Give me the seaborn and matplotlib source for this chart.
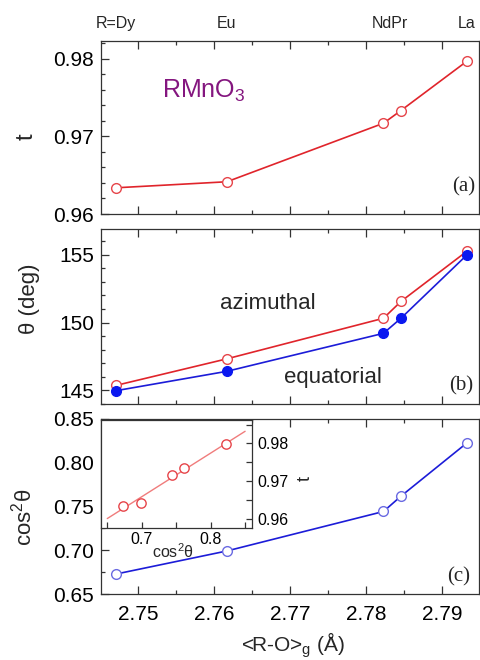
import numpy as np
import pandas as pd
import matplotlib
matplotlib.use("Agg")
import matplotlib.pyplot as plt
import seaborn as sns
from matplotlib.ticker import MultipleLocator, FormatStrFormatter, NullLocator

# ---- data ----
r_o = [2.7471, 2.7617, 2.7823, 2.7846, 2.7933]          # <R-O>_g (Å)
t_vals = [0.96338, 0.96416, 0.97171, 0.97335, 0.97973]   # tolerance factor t
theta_az = [145.37, 147.33, 150.32, 151.56, 155.27]      # azimuthal angle
theta_eq = [144.98, 146.41, 149.21, 150.32, 155.00]      # equatorial angle
cos2 = [0.6728, 0.6992, 0.7443, 0.7618, 0.8228]          # cos^2 theta
top_labels = ["R=Dy", "Eu", "NdPr", "La"]
top_label_x = [2.7471, 2.7617, 2.7832, 2.7933]

sns.set_theme(style="ticks")
plt.rcParams["font.family"] = ["Liberation Sans", "DejaVu Sans"]
plt.rcParams["mathtext.fontset"] = "custom"
plt.rcParams["mathtext.rm"] = "Liberation Sans"
plt.rcParams["mathtext.it"] = "Liberation Sans:italic"
plt.rcParams["mathtext.bf"] = "Liberation Sans:bold"

RED = "#e0242b"
RED_M = "#e6454a"
BLUE = "#1c1cd8"
BLUE_F = "#0a18f0"
BLUE_M = "#6a6ae2"
PURPLE = "#84167f"
RED_IN = "#f07c7c"
SPINE = "#333333"

df = pd.DataFrame({"r_o": r_o, "t": t_vals, "az": theta_az, "eq": theta_eq, "cos2": cos2})

W_PX, H_PX = 481, 660
fig = plt.figure(figsize=(W_PX / 100, H_PX / 100), dpi=100)
L = 101 / W_PX
W = 378 / W_PX
ax_a = fig.add_axes([L, 1 - 214 / H_PX, W, 173 / H_PX])
ax_b = fig.add_axes([L, 1 - 404 / H_PX, W, 175 / H_PX])
ax_c = fig.add_axes([L, 1 - 594 / H_PX, W, 175 / H_PX])
ax_in = fig.add_axes([L, 1 - 528 / H_PX, 151 / W_PX, 108 / H_PX])
ax_in.set_facecolor("white")

# ---- panel (a) ----
sns.lineplot(data=df, x="r_o", y="t", ax=ax_a, color=RED, lw=1.2, marker="o",
             ms=7, mfc="white", mec=RED_M, mew=1.0)
# ---- panel (b) ----
sns.lineplot(data=df, x="r_o", y="az", ax=ax_b, color=RED, lw=1.2, marker="o",
             ms=7, mfc="white", mec=RED_M, mew=1.0)
sns.lineplot(data=df, x="r_o", y="eq", ax=ax_b, color=BLUE, lw=1.2, marker="o",
             ms=7, mfc=BLUE_F, mec=BLUE_F, mew=1.0)
# ---- panel (c) ----
sns.lineplot(data=df, x="r_o", y="cos2", ax=ax_c, color=BLUE, lw=1.2, marker="o",
             ms=7, mfc="white", mec=BLUE_M, mew=1.0)

xlim = (2.74513, 2.79487)
for ax in (ax_a, ax_b, ax_c):
    ax.set_xlim(*xlim)
    ax.xaxis.set_major_locator(MultipleLocator(0.01))
    ax.xaxis.set_minor_locator(MultipleLocator(0.005))
    ax.xaxis.set_major_formatter(FormatStrFormatter("%.2f"))
    ax.tick_params(which="both", direction="in", top=True, bottom=True,
                   left=True, right=False, width=0.9, color=SPINE,
                   labelsize=15, labelcolor="black")
    ax.tick_params(which="major", length=5.5)
    ax.tick_params(which="minor", length=3)
    ax.tick_params(axis="y", pad=5)
    ax.tick_params(axis="x", pad=8)
    for s in ax.spines.values():
        s.set_color(SPINE)
        s.set_linewidth(0.9)
        s.set_visible(True)
    ax.set_xlabel("")

ax_a.tick_params(labelbottom=False)
ax_b.tick_params(labelbottom=False)

ax_a.set_ylim(0.96, 0.98232)
ax_a.yaxis.set_major_locator(MultipleLocator(0.01))
ax_a.yaxis.set_minor_locator(MultipleLocator(0.002))
ax_a.yaxis.set_major_formatter(FormatStrFormatter("%.2f"))

ax_b.set_ylim(144.0, 156.9)
ax_b.yaxis.set_major_locator(MultipleLocator(5))
ax_b.yaxis.set_minor_locator(MultipleLocator(1))

ax_c.set_ylim(0.65, 0.85)
ax_c.yaxis.set_major_locator(MultipleLocator(0.05))
ax_c.yaxis.set_minor_locator(MultipleLocator(0.025))
ax_c.yaxis.set_major_formatter(FormatStrFormatter("%.2f"))

# top category labels
sec = ax_a.secondary_xaxis("top")
sec.set_xticks(top_label_x, labels=top_labels)
sec.xaxis.set_minor_locator(NullLocator())
sec.tick_params(length=0, pad=7, labelsize=11.5)
sec.spines["top"].set_visible(False)

# y labels
def place_ylabel(ax, text, x, y, size=16):
    ax.set_ylabel(text, fontsize=size)
    ax.yaxis.set_label_coords(x, y)
    ax.yaxis.label.set_rotation_mode("default")
    ax.yaxis.label.set_ha("center")
    ax.yaxis.label.set_va("center")

place_ylabel(ax_a, "t", -0.196, 0.445, 17)
place_ylabel(ax_b, "θ (deg)", -0.19, 0.60, 16)
place_ylabel(ax_c, r"cos$^\mathregular{2}$θ", -0.205, 0.44, 16)

ax_c.set_xlabel(r"<R-O>$_\mathregular{g}$ (Å)", fontsize=15)
ax_c.xaxis.set_label_coords(0.508, -0.29)
ax_c.xaxis.label.set_va("center")

# annotations
ax_a.text(0.161, 0.67, r"RMnO$_\mathregular{3}$", transform=ax_a.transAxes, color=PURPLE,
          fontsize=18, ha="left", va="baseline")
ax_a.text(0.989, 0.156, "(a)", transform=ax_a.transAxes, ha="right", va="center",
          fontsize=15, family=["Liberation Serif", "DejaVu Serif"])
ax_b.text(0.984, 0.105, "(b)", transform=ax_b.transAxes, ha="right", va="center",
          fontsize=15, family=["Liberation Serif", "DejaVu Serif"])
ax_c.text(0.976, 0.099, "(c)", transform=ax_c.transAxes, ha="right", va="center",
          fontsize=15, family=["Liberation Serif", "DejaVu Serif"])
ax_b.text(0.442, 0.577, "azimuthal", transform=ax_b.transAxes, ha="center",
          va="center", fontsize=16)
ax_b.text(0.614, 0.15, "equatorial", transform=ax_b.transAxes, ha="center",
          va="center", fontsize=16)

# ---- inset: t vs cos^2 theta ----
ax_in.set_xlim(0.65, 0.85)
sns.regplot(data=df, x="cos2", y="t", ax=ax_in, ci=None, truncate=False,
            scatter=False, line_kws=dict(color=RED_IN, lw=1.0))
sns.scatterplot(data=df, x="cos2", y="t", ax=ax_in, marker="o", s=45,
                facecolor="white", edgecolor=RED_M, linewidth=1.0, zorder=3)
ax_in.set_xlim(0.6409, 0.860)
ax_in.set_ylim(0.9575, 0.9862)
ax_in.xaxis.set_major_locator(MultipleLocator(0.1))
ax_in.xaxis.set_minor_locator(MultipleLocator(0.05))
ax_in.xaxis.set_major_formatter(FormatStrFormatter("%.1f"))
ax_in.yaxis.set_major_locator(MultipleLocator(0.01))
ax_in.yaxis.set_minor_locator(MultipleLocator(0.005))
ax_in.yaxis.set_major_formatter(FormatStrFormatter("%.2f"))
ax_in.yaxis.tick_right()
ax_in.tick_params(which="both", direction="in", left=False, right=True,
                  top=False, bottom=True, labelleft=False, labelright=True,
                  length=4.5, width=0.9, color=SPINE, labelsize=11.5,
                  labelcolor="black")
ax_in.tick_params(axis="x", pad=3)
ax_in.tick_params(axis="y", pad=4)
for s in ax_in.spines.values():
    s.set_color(SPINE)
    s.set_linewidth(0.9)
ax_in.set_xlabel(r"cos$^\mathregular{2}$θ", fontsize=11.5)
ax_in.xaxis.set_label_coords(0.475, -0.215)
ax_in.xaxis.label.set_va("center")
ax_in.yaxis.set_label_position("right")
ax_in.set_ylabel("t", fontsize=13)
ax_in.yaxis.set_label_coords(1.35, 0.46)
ax_in.yaxis.label.set_rotation(90)
ax_in.yaxis.label.set_rotation_mode("default")
ax_in.yaxis.label.set_ha("center")
ax_in.yaxis.label.set_va("center")

fig.savefig("out.png", dpi=100)
